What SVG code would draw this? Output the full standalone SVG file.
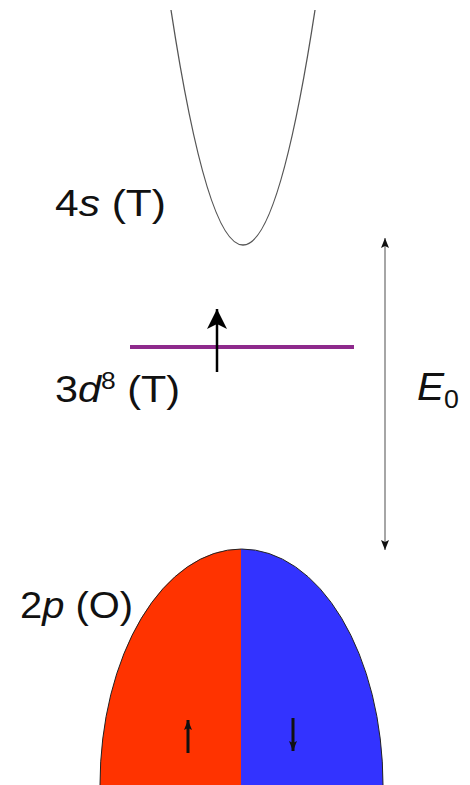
<svg xmlns="http://www.w3.org/2000/svg" width="470" height="785" viewBox="0 0 470 785">
<style>
.lbl{font-family:"Liberation Sans",Arial,sans-serif;font-size:36px;fill:#111}
.it{font-style:italic}
</style>
<defs>
<marker id="ah" viewBox="0 0 20 20" refX="20" refY="10" markerWidth="21" markerHeight="20" markerUnits="userSpaceOnUse" orient="auto-start-reverse">
<path d="M0 0 L20 10 L0 20 L5 10 Z" fill="#000"/>
</marker>
<marker id="sm" viewBox="0 0 10 8" refX="10" refY="4" markerWidth="10" markerHeight="8" markerUnits="userSpaceOnUse" orient="auto-start-reverse">
<path d="M0 0 L10 4 L0 8 L2 4 Z" fill="#111"/>
</marker>
<marker id="bm" viewBox="0 0 10 8" refX="10" refY="4" markerWidth="10" markerHeight="9" markerUnits="userSpaceOnUse" orient="auto-start-reverse">
<path d="M0 0 L10 4 L0 8 L2 4 Z" fill="#111"/>
</marker>
</defs>
<rect width="470" height="785" fill="#fff"/>
<g id="band-4s">
<path d="M171 10 Q243 480 315 10" fill="none" stroke="#555" stroke-width="1.3"/>
<text class="lbl" x="55" y="216" textLength="111" lengthAdjust="spacingAndGlyphs">4<tspan class="it">s</tspan> (T)</text>
</g>
<g id="level-3d">
<line x1="130" y1="347" x2="354" y2="347" stroke="#8E2A8C" stroke-width="4"/>
<text class="lbl" x="55" y="402" textLength="125" lengthAdjust="spacingAndGlyphs">3<tspan class="it">d</tspan><tspan font-size="23" dy="-13">8</tspan><tspan dy="13"> (T)</tspan></text>
</g>
<g id="band-2p">
<path d="M100 785 A141 236 0 0 1 241 549 L241 785 Z" fill="#FF3300"/>
<path d="M241 549 A142 236 0 0 1 383 785 L241 785 Z" fill="#3333FF"/>
<path d="M100 785 A141.5 236 0 0 1 383 785" fill="none" stroke="#222" stroke-width="1"/>
<text class="lbl" x="20" y="618" textLength="113" lengthAdjust="spacingAndGlyphs">2<tspan class="it">p</tspan> (O)</text>
</g>
<g id="label-E0">
<text class="lbl" x="417" y="400" textLength="42" lengthAdjust="spacingAndGlyphs"><tspan class="it" font-size="38">E</tspan><tspan font-size="25" dy="8">0</tspan></text>
</g>
<g id="connectors">
<line x1="217" y1="372" x2="217" y2="309" stroke="#000" stroke-width="2.5" marker-end="url(#ah)"/>
<line x1="385" y1="238" x2="385" y2="550" stroke="#888" stroke-width="1.5" marker-start="url(#sm)" marker-end="url(#sm)"/>
<line x1="188" y1="753" x2="188" y2="720" stroke="#111" stroke-width="3" marker-end="url(#bm)"/>
<line x1="293" y1="718" x2="293" y2="751" stroke="#111" stroke-width="3" marker-end="url(#bm)"/>
</g>
</svg>
